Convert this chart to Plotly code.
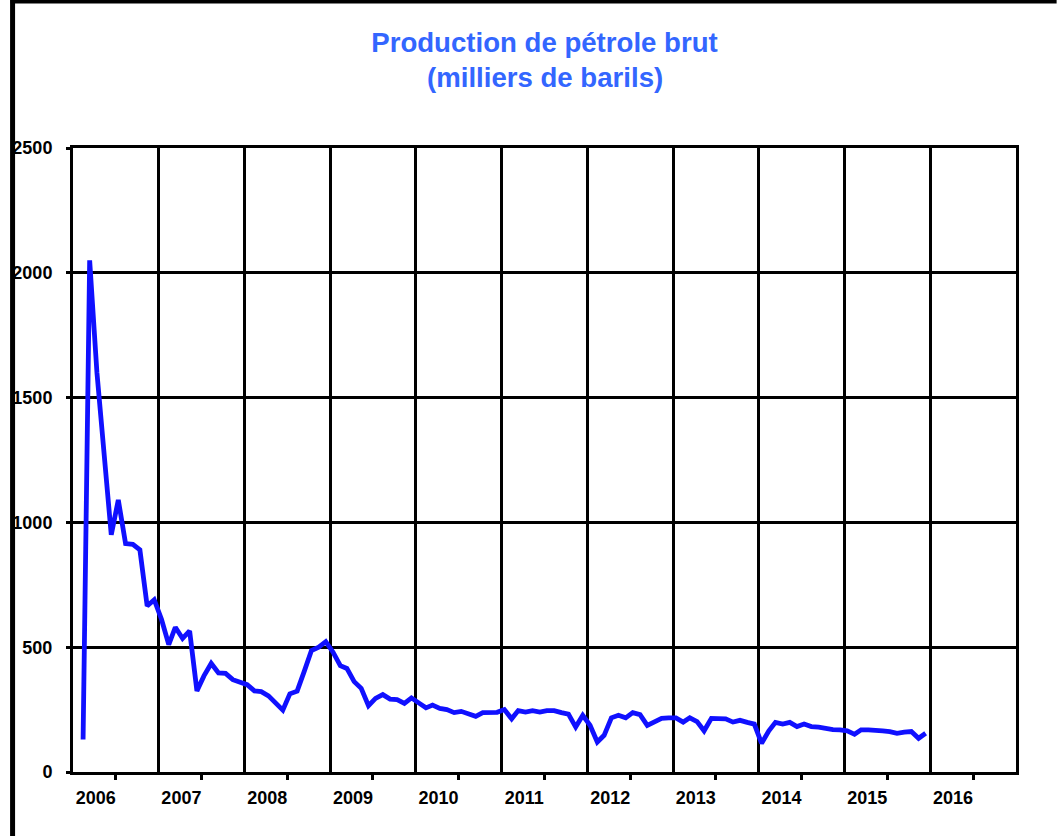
import pandas as pd
import plotly.graph_objects as go

# Production mensuelle (milliers de barils), février 2006 -> décembre 2015
production = [
    130, 2050, 1600, 1270, 950, 1090, 915, 912, 890, 665, 690,
    612, 510, 580, 535, 565, 325, 385, 435, 397, 395, 370, 360,
    350, 325, 322, 305, 280, 248, 313, 324, 405, 487, 500, 522,
    480, 426, 415, 362, 335, 266, 295, 310, 292, 290, 275, 297,
    277, 257, 268, 255, 250, 238, 243, 232, 223, 238, 239, 239,
    250, 213, 246, 240, 246, 240, 246, 246, 238, 232, 180, 227,
    187, 120, 147, 217, 227, 217, 238, 230, 187, 200, 215, 217,
    217, 200, 217, 202, 165, 215, 213, 213, 200, 207, 199, 192,
    115, 165, 199, 192, 199, 182, 192, 182, 180, 174, 170, 169,
    165, 151, 169, 169, 169, 165, 162, 155, 160, 162, 135, 155,
]
first_month = "2006-02-01"
years = ["2006", "2007", "2008", "2009", "2010", "2011",
         "2012", "2013", "2014", "2015", "2016"]
y_ticks = [0, 500, 1000, 1500, 2000, 2500]

months = pd.date_range(first_month, periods=len(production), freq="MS") + pd.Timedelta(days=12)

FONT = "Liberation Sans, Arial, sans-serif"
TITLE_BLUE = "#3366FF"
L, R, T, B = 64, 41, 148, 64
PW, PH = 1057 - L - R, 836 - T - B

fig = go.Figure()
fig.add_trace(go.Scatter(
    x=months, y=production, mode="lines",
    line=dict(color="#1010FF", width=4.8),
    showlegend=False,
))

fig.update_layout(
    width=1057, height=836,
    margin=dict(l=L, r=R, t=T, b=B),
    paper_bgcolor="white", plot_bgcolor="white",
    font=dict(family=FONT, color="black"),
    title=dict(
        text="<b>Production de pétrole brut</b>",
        x=0.5, xref="paper", xanchor="center",
        y=1 - 42 / 836, yanchor="middle",
        font=dict(family=FONT, size=27.6, color=TITLE_BLUE),
    ),
    annotations=[dict(
        text="<b>(milliers de barils)</b>",
        xref="paper", yref="paper", x=0.5, y=(836 - B - 78) / PH,
        xanchor="center", yanchor="middle", showarrow=False,
        font=dict(family=FONT, size=27.6, color=TITLE_BLUE),
    )],
    # cadre du graphique d'origine (bord gauche et bord haut)
    shapes=[
        dict(type="line", xref="paper", yref="paper",
             x0=(3 - L) / PW, x1=(3 - L) / PW,
             y0=(836 - B) / PH, y1=-B / PH,
             line=dict(color="black", width=5)),
        dict(type="line", xref="paper", yref="paper",
             x0=(1 - L) / PW, x1=(1057 - L) / PW,
             y0=(836 - B - 1.5) / PH, y1=(836 - B - 1.5) / PH,
             line=dict(color="black", width=4)),
    ],
)

fig.update_xaxes(
    type="date",
    range=["2006-01-01", "2017-01-01"],
    tickmode="array",
    tickvals=[f"{y}-07-02" for y in years],
    ticktext=years,
    ticks="outside", ticklen=5, tickwidth=3, tickcolor="black",
    ticklabelshift=-20, ticklabelstandoff=2,
    tickfont=dict(family=FONT, size=18, color="black", weight="bold"),
    showgrid=False,
    minor=dict(
        tickmode="array",
        tickvals=[f"{y}-01-01" for y in years] + ["2017-01-01"],
        showgrid=True, gridcolor="black", gridwidth=3, ticks="",
    ),
    showline=True, linecolor="black", linewidth=3, mirror=True,
    zeroline=False,
)

fig.update_yaxes(
    range=[0, 2500],
    tickmode="array", tickvals=y_ticks,
    ticks="outside", ticklen=4, tickwidth=3, tickcolor="black",
    ticklabelstandoff=10,
    tickfont=dict(family=FONT, size=18, color="black", weight="bold"),
    showgrid=True, gridcolor="black", gridwidth=3,
    showline=True, linecolor="black", linewidth=3, mirror=True,
    zeroline=False,
)

fig.write_html(
    "out.html",
    config={"displayModeBar": False},
    post_script="document.body.style.margin = '0';",
)
